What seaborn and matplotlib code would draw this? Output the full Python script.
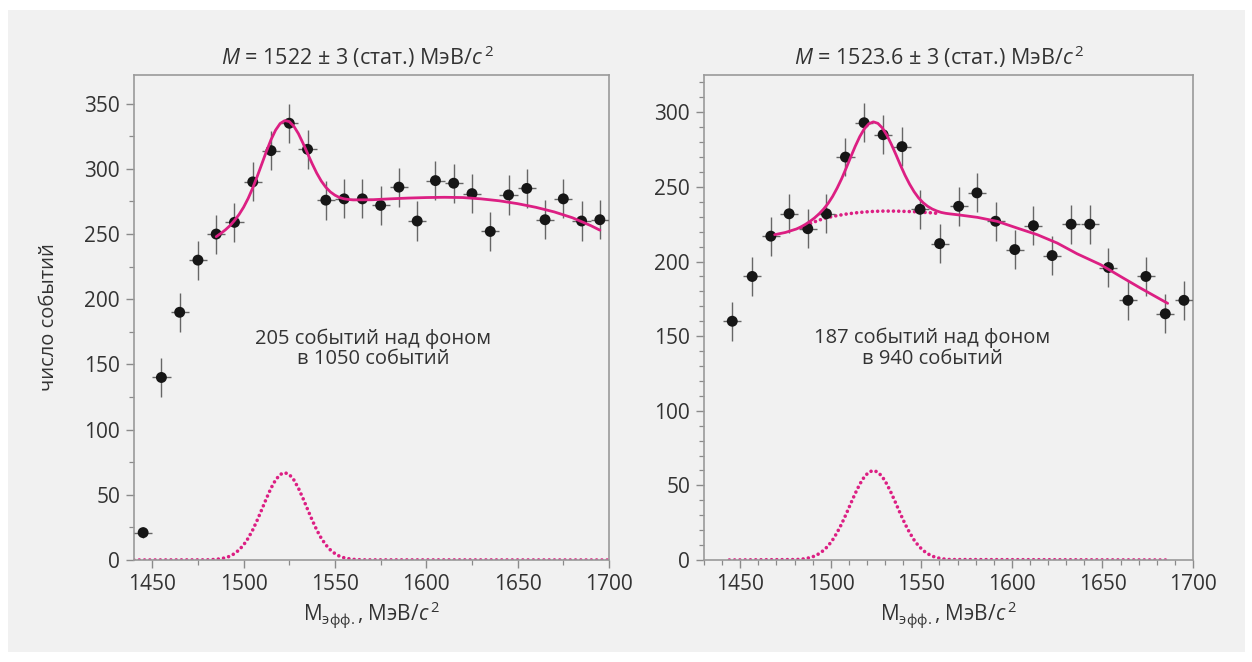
import matplotlib
matplotlib.use("Agg")
import numpy as np
import pandas as pd
import matplotlib.pyplot as plt
import seaborn as sns
from matplotlib.ticker import MultipleLocator
from matplotlib.patches import Rectangle

# ---------------- data ----------------
left_mass = [1445, 1455, 1465, 1475, 1485, 1495, 1505, 1515, 1525, 1535, 1545, 1555, 1565,
             1575, 1585, 1595, 1605, 1615, 1625, 1635, 1645, 1655, 1665, 1675, 1685, 1695]
left_counts = [21, 140, 190, 230, 250, 259, 290, 314, 335, 315, 276, 277, 277,
               272, 286, 260, 291, 289, 281, 252, 280, 285, 261, 277, 260, 261]
left_yerr = [4, 15, 15, 15, 15, 15, 15, 15, 15, 15, 15, 15, 15,
             15, 15, 15, 15, 15, 15, 15, 15, 15, 15, 15, 15, 15]
left_xerr = [5] * 26

left_fit_x = [1485, 1487.5, 1490, 1492.5, 1495, 1497.5, 1500, 1502.5, 1505, 1507.5, 1510,
              1512.5, 1515, 1517.5, 1520, 1522.5, 1525, 1527.5, 1530, 1532.5, 1535, 1537.5,
              1540, 1542.5, 1545, 1547.5, 1550, 1552.5, 1555, 1557.5, 1560,
              1570, 1580, 1590, 1600, 1610, 1620, 1630, 1640, 1650, 1660, 1670, 1680, 1690, 1695]
left_fit_y = [248.0, 250.5, 253.2, 256.4, 260.4, 265.0, 270.6, 277.4, 285.4, 294.4, 303.9,
              313.5, 322.4, 329.7, 334.8, 337.0, 336.3, 332.7, 327.0, 319.7, 311.8, 304.0,
              296.8, 290.7, 285.9, 282.3, 279.8, 278.0, 277.0, 276.5, 276.2,
              276.3, 277.0, 277.6, 278.0, 278.2, 278.0, 277.0, 275.5, 273.3, 270.5, 267.0,
              262.5, 256.5, 253.0]

left_sig_x = [1440, 1480, 1482.5, 1485, 1487.5, 1490, 1492.5, 1495, 1497.5, 1500, 1502.5,
              1505, 1507.5, 1510, 1512.5, 1515, 1517.5, 1520, 1522.5, 1525, 1527.5, 1530,
              1532.5, 1535, 1537.5, 1540, 1542.5, 1545, 1547.5, 1550, 1552.5, 1555, 1557.5,
              1560, 1562.5, 1565, 1700]
left_sig_y = [0, 0.1, 0.3, 0.5, 1.0, 1.7, 2.9, 4.9, 7.7, 11.6, 16.7, 23.1, 30.7, 38.9, 47.3,
              55.1, 61.4, 65.6, 67.0, 65.6, 61.4, 55.1, 47.3, 38.9, 30.7, 23.1, 16.7, 11.6,
              7.7, 4.9, 2.9, 1.7, 1.0, 0.5, 0.3, 0.1, 0]

right_mass = [1445.6, 1456.6, 1466.9, 1477.0, 1487.3, 1497.6, 1508.1, 1518.4, 1528.9, 1539.3,
              1549.3, 1560.1, 1570.6, 1580.7, 1591.0, 1601.6, 1611.9, 1622.2, 1632.7, 1643.0,
              1653.3, 1664.1, 1674.0, 1684.7, 1695.0]
right_counts = [160, 190, 217, 232, 222, 232, 270, 293, 285, 277, 235, 212, 237, 246, 227,
                208, 224, 204, 225, 225, 196, 174, 190, 165, 174]
right_yerr = [13] * 25
right_xerr = [5] * 25

right_fit_x = [1469, 1475, 1481, 1483.5, 1486, 1488.5, 1491, 1493.5, 1496, 1498.5, 1501,
               1503.5, 1506, 1508.5, 1511, 1513.5, 1516, 1518.5, 1521, 1523.5, 1526, 1528.5,
               1531, 1533.5, 1536, 1538.5, 1541, 1543.5, 1546, 1548.5, 1551, 1553.5, 1556,
               1558.5, 1561, 1563.5, 1566, 1571, 1581, 1592, 1603, 1614, 1625, 1636, 1649,
               1660, 1671, 1686]
right_fit_y = [218.0, 219.5, 221.8, 223.2, 224.9, 226.9, 229.2, 231.9, 235.1, 238.9, 243.6,
               249.2, 255.5, 262.6, 270.0, 277.2, 283.7, 288.9, 292.3, 293.6, 292.6, 289.5,
               284.6, 278.4, 271.6, 264.5, 257.8, 251.9, 246.8, 242.6, 239.4, 237.0, 235.2,
               233.9, 232.9, 232.3, 231.9, 231.2, 229.6, 226.9, 222.4, 218.0, 212.4, 205.2,
               197.9, 190.0, 182.2, 172.0]

right_bg_x = [1483.5, 1486, 1488.5, 1491, 1493.5, 1496, 1498.5, 1501, 1503.5, 1506, 1508.5,
              1511, 1513.5, 1516, 1518.5, 1521, 1523.5, 1526, 1528.5, 1531, 1533.5, 1536,
              1538.5, 1541, 1543.5, 1546, 1548.5, 1551, 1553.5, 1556, 1558.5]
right_bg_y = [222.7, 224.0, 225.3, 226.6, 227.7, 228.7, 229.5, 230.2, 230.8, 231.3, 231.8,
              232.2, 232.6, 232.9, 233.2, 233.4, 233.6, 233.7, 233.8, 233.8, 233.8, 233.8,
              233.7, 233.6, 233.5, 233.4, 233.2, 233.0, 232.8, 232.6, 232.3]

right_sig_x = [1444, 1481, 1483.5, 1486, 1488.5, 1491, 1493.5, 1496, 1498.5, 1501, 1503.5,
               1506, 1508.5, 1511, 1513.5, 1516, 1518.5, 1521, 1523.5, 1526, 1528.5, 1531,
               1533.5, 1536, 1538.5, 1541, 1543.5, 1546, 1548.5, 1551, 1553.5, 1556, 1558.5,
               1561, 1563.5, 1566, 1687]
right_sig_y = [0, 0.3, 0.5, 0.9, 1.6, 2.6, 4.2, 6.4, 9.4, 13.4, 18.4, 24.2, 30.8, 37.8, 44.6,
               50.8, 55.7, 58.9, 60.0, 58.9, 55.7, 50.8, 44.6, 37.8, 30.8, 24.2, 18.4, 13.4,
               9.4, 6.4, 4.2, 2.6, 1.6, 0.9, 0.5, 0.3, 0]

titles = [r"$M$ = 1522 ± 3 (стат.) МэВ/$c^{\,2}$", r"$M$ = 1523.6 ± 3 (стат.) МэВ/$c^{\,2}$"]
notes = ["205 событий над фоном\nв 1050 событий", "187 событий над фоном\nв 940 событий"]
xlabel = r"M$_{\mathrm{эфф.}}$, МэВ/$c^{\,2}$"
ylabel = "число событий"
x_ticks = [1450, 1500, 1550, 1600, 1650, 1700]

# ---------------- style ----------------
sns.set_theme(style="ticks")
plt.rcParams["font.family"] = ["Open Sans", "DejaVu Sans"]
plt.rcParams["mathtext.fontset"] = "custom"
plt.rcParams["mathtext.rm"] = "Open Sans"
plt.rcParams["mathtext.it"] = "Open Sans:italic"
plt.rcParams["mathtext.bf"] = "Open Sans:bold"

BG = "#f1f1f1"
PINK = "#dc1f83"
TEXT = "#333333"
SPINE = "#9a9a9a"
DOT = "#161616"

W, H = 1252, 662
fig = plt.figure(figsize=(W / 100, H / 100), dpi=100, facecolor="white")
fig.patches.append(Rectangle((8 / W, 10 / H), (1245 - 8) / W, (652 - 10) / H,
                             transform=fig.transFigure, facecolor=BG, edgecolor="none",
                             zorder=-10))

ax1 = fig.add_axes([134 / W, (H - 560) / H, 475 / W, 485 / H])
ax2 = fig.add_axes([704 / W, (H - 560) / H, 489 / W, 485 / H])

dotted = dict(linestyle=(0, (0.01, 1.45)), dash_capstyle="round", linewidth=2.6)


def draw(ax, mx, cnt, yerr, xerr, fit_x, fit_y, sig_x, sig_y, bg_x=None, bg_y=None):
    ax.set_facecolor(BG)
    ax.errorbar(mx, cnt, yerr=yerr, xerr=xerr, fmt="none", ecolor="#666666",
                elinewidth=1.0, capsize=0, zorder=3)
    sns.lineplot(x=sig_x, y=sig_y, ax=ax, color=PINK, sort=False, estimator=None,
                 zorder=2, **dotted)
    if bg_x is not None:
        sns.lineplot(x=bg_x, y=bg_y, ax=ax, color=PINK, sort=False, estimator=None,
                     zorder=2, **dotted)
    sns.lineplot(x=fit_x, y=fit_y, ax=ax, color=PINK, sort=False, estimator=None,
                 linewidth=2.0, zorder=5)
    sns.scatterplot(x=mx, y=cnt, ax=ax, color=DOT, s=62, edgecolor="none",
                    linewidth=0, zorder=4)


draw(ax1, left_mass, left_counts, left_yerr, left_xerr, left_fit_x, left_fit_y,
     left_sig_x, left_sig_y)
draw(ax2, right_mass, right_counts, right_yerr, right_xerr, right_fit_x, right_fit_y,
     right_sig_x, right_sig_y, right_bg_x, right_bg_y)

ax1.set_xlim(1440, 1700)
ax1.set_ylim(0, 372)
ax2.set_xlim(1430, 1700)
ax2.set_ylim(0, 325)

ax1.xaxis.set_minor_locator(MultipleLocator(25))
ax1.yaxis.set_major_locator(MultipleLocator(50))
ax1.yaxis.set_minor_locator(MultipleLocator(25))
ax2.xaxis.set_minor_locator(MultipleLocator(10))
ax2.yaxis.set_major_locator(MultipleLocator(50))
ax2.yaxis.set_minor_locator(MultipleLocator(10))

for ax, title, tx, note, pos in [(ax1, titles[0], 0.47, notes[0], (1571, 162)),
                                 (ax2, titles[1], 0.482, notes[1], (1556, 142))]:
    ax.set_xticks(x_ticks)
    ax.set_title(title, fontsize=15.5, color=TEXT, pad=7, x=tx)
    ax.set_xlabel(xlabel, fontsize=15, color=TEXT, labelpad=3)
    ax.text(pos[0], pos[1], note, ha="center", va="center", fontsize=14.5,
            color=TEXT, linespacing=1.05)
    for sp in ax.spines.values():
        sp.set_color(SPINE)
        sp.set_linewidth(1.2)
        sp.set_visible(True)
    ax.tick_params(which="major", direction="out", length=6, width=1.0, color="#8a8a8a",
                   labelsize=15, labelcolor=TEXT, pad=4)
    ax.tick_params(which="minor", direction="out", length=3.5, width=0.9, color="#8a8a8a")
    ax.tick_params(top=False, right=False, which="both")

ax1.set_ylabel(ylabel, fontsize=14.5, color=TEXT, labelpad=18)
ax2.set_ylabel("")

fig.savefig("out.png", dpi=100, facecolor="white")
